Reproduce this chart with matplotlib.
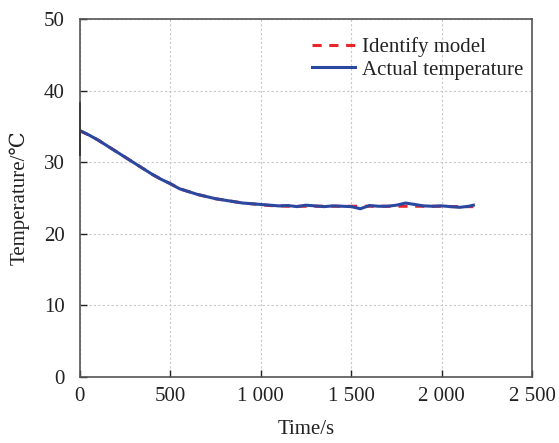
import matplotlib
matplotlib.use("Agg")
import matplotlib.pyplot as plt
from matplotlib.ticker import FixedLocator

plt.rcParams['font.family'] = ['Liberation Serif', 'DejaVu Serif']

time_s = [0, 50, 100, 150, 200, 250, 300, 350, 400, 450, 500, 550, 600, 650, 700,
          750, 800, 850, 900, 950, 1000, 1050, 1100, 1150, 1200, 1250, 1300, 1350,
          1400, 1450, 1500, 1550, 1600, 1650, 1700, 1750, 1800, 1850, 1900, 1950,
          2000, 2050, 2100, 2150, 2175]
actual_temp = [34.4, 33.8, 33.1, 32.3, 31.5, 30.7, 29.9, 29.1, 28.3, 27.6, 27.0,
               26.3, 25.9, 25.5, 25.2, 24.9, 24.7, 24.5, 24.3, 24.2, 24.1, 24.0,
               23.9, 23.95, 23.8, 24.0, 23.9, 23.8, 23.9, 23.85, 23.8, 23.5, 23.95,
               23.85, 23.85, 24.0, 24.3, 24.1, 23.9, 23.85, 23.9, 23.8, 23.7, 23.85, 24.0]
model_temp = [34.4, 33.8, 33.1, 32.3, 31.5, 30.7, 29.9, 29.1, 28.3, 27.6, 27.0,
              26.3, 25.9, 25.5, 25.2, 24.9, 24.7, 24.5, 24.3, 24.2, 24.05, 23.95,
              23.9, 23.85, 23.85, 23.85, 23.85, 23.85, 23.85, 23.85, 23.85, 23.85, 23.85,
              23.85, 23.85, 23.85, 23.85, 23.85, 23.85, 23.85, 23.85, 23.8, 23.8, 23.8, 23.8]
start_spike_t = [0, 0, 0]
start_spike_v = [38.3, 31.0, 34.4]

x_ticks = [0, 500, 1000, 1500, 2000, 2500]
x_tick_labels = ['0', '500', '1 000', '1 500', '2 000', '2 500']
y_ticks = [0, 10, 20, 30, 40, 50]

fig = plt.figure(figsize=(5.59, 4.43), dpi=100)
ax = fig.add_axes([0.143, 0.149, 0.809, 0.808])

ax.plot(start_spike_t, start_spike_v, color='#3a3a3a', lw=1.3, zorder=4, clip_on=False)
ax.plot(time_s, model_temp, color='#e8262a', lw=2.2, ls=(0, (3, 2.5)), label='Identify model', zorder=2)
ax.plot(time_s, actual_temp, color='#2a48a0', lw=2.2, label='Actual temperature', zorder=3)

ax.set_xlim(0, 2500)
ax.set_ylim(0, 50)
ax.xaxis.set_major_locator(FixedLocator(x_ticks))
ax.set_xticklabels(x_tick_labels)
ax.yaxis.set_major_locator(FixedLocator(y_ticks))
ax.tick_params(direction='in', length=5, width=1, labelsize=15, colors='#222222')
ax.tick_params(axis='x', pad=7)
ax.tick_params(axis='y', pad=11)
ax.grid(True, color='#c8c8c8', ls=(0, (2, 2)), lw=0.8)
for s in ax.spines.values():
    s.set_color('#555555')
    s.set_linewidth(1.2)

ax.set_xlabel('Time/s', fontsize=15, color='#222222', labelpad=10)
ax.set_ylabel('Temperature/℃', fontsize=15, color='#222222', labelpad=10)

leg = ax.legend(loc='upper right', frameon=False, fontsize=15, handlelength=2.1,
                handletextpad=0.3, labelspacing=0.15, borderaxespad=0.0,
                bbox_to_anchor=(0.998, 0.973))
for t in leg.get_texts():
    t.set_color('#222222')

fig.savefig('out.png', dpi=100)
